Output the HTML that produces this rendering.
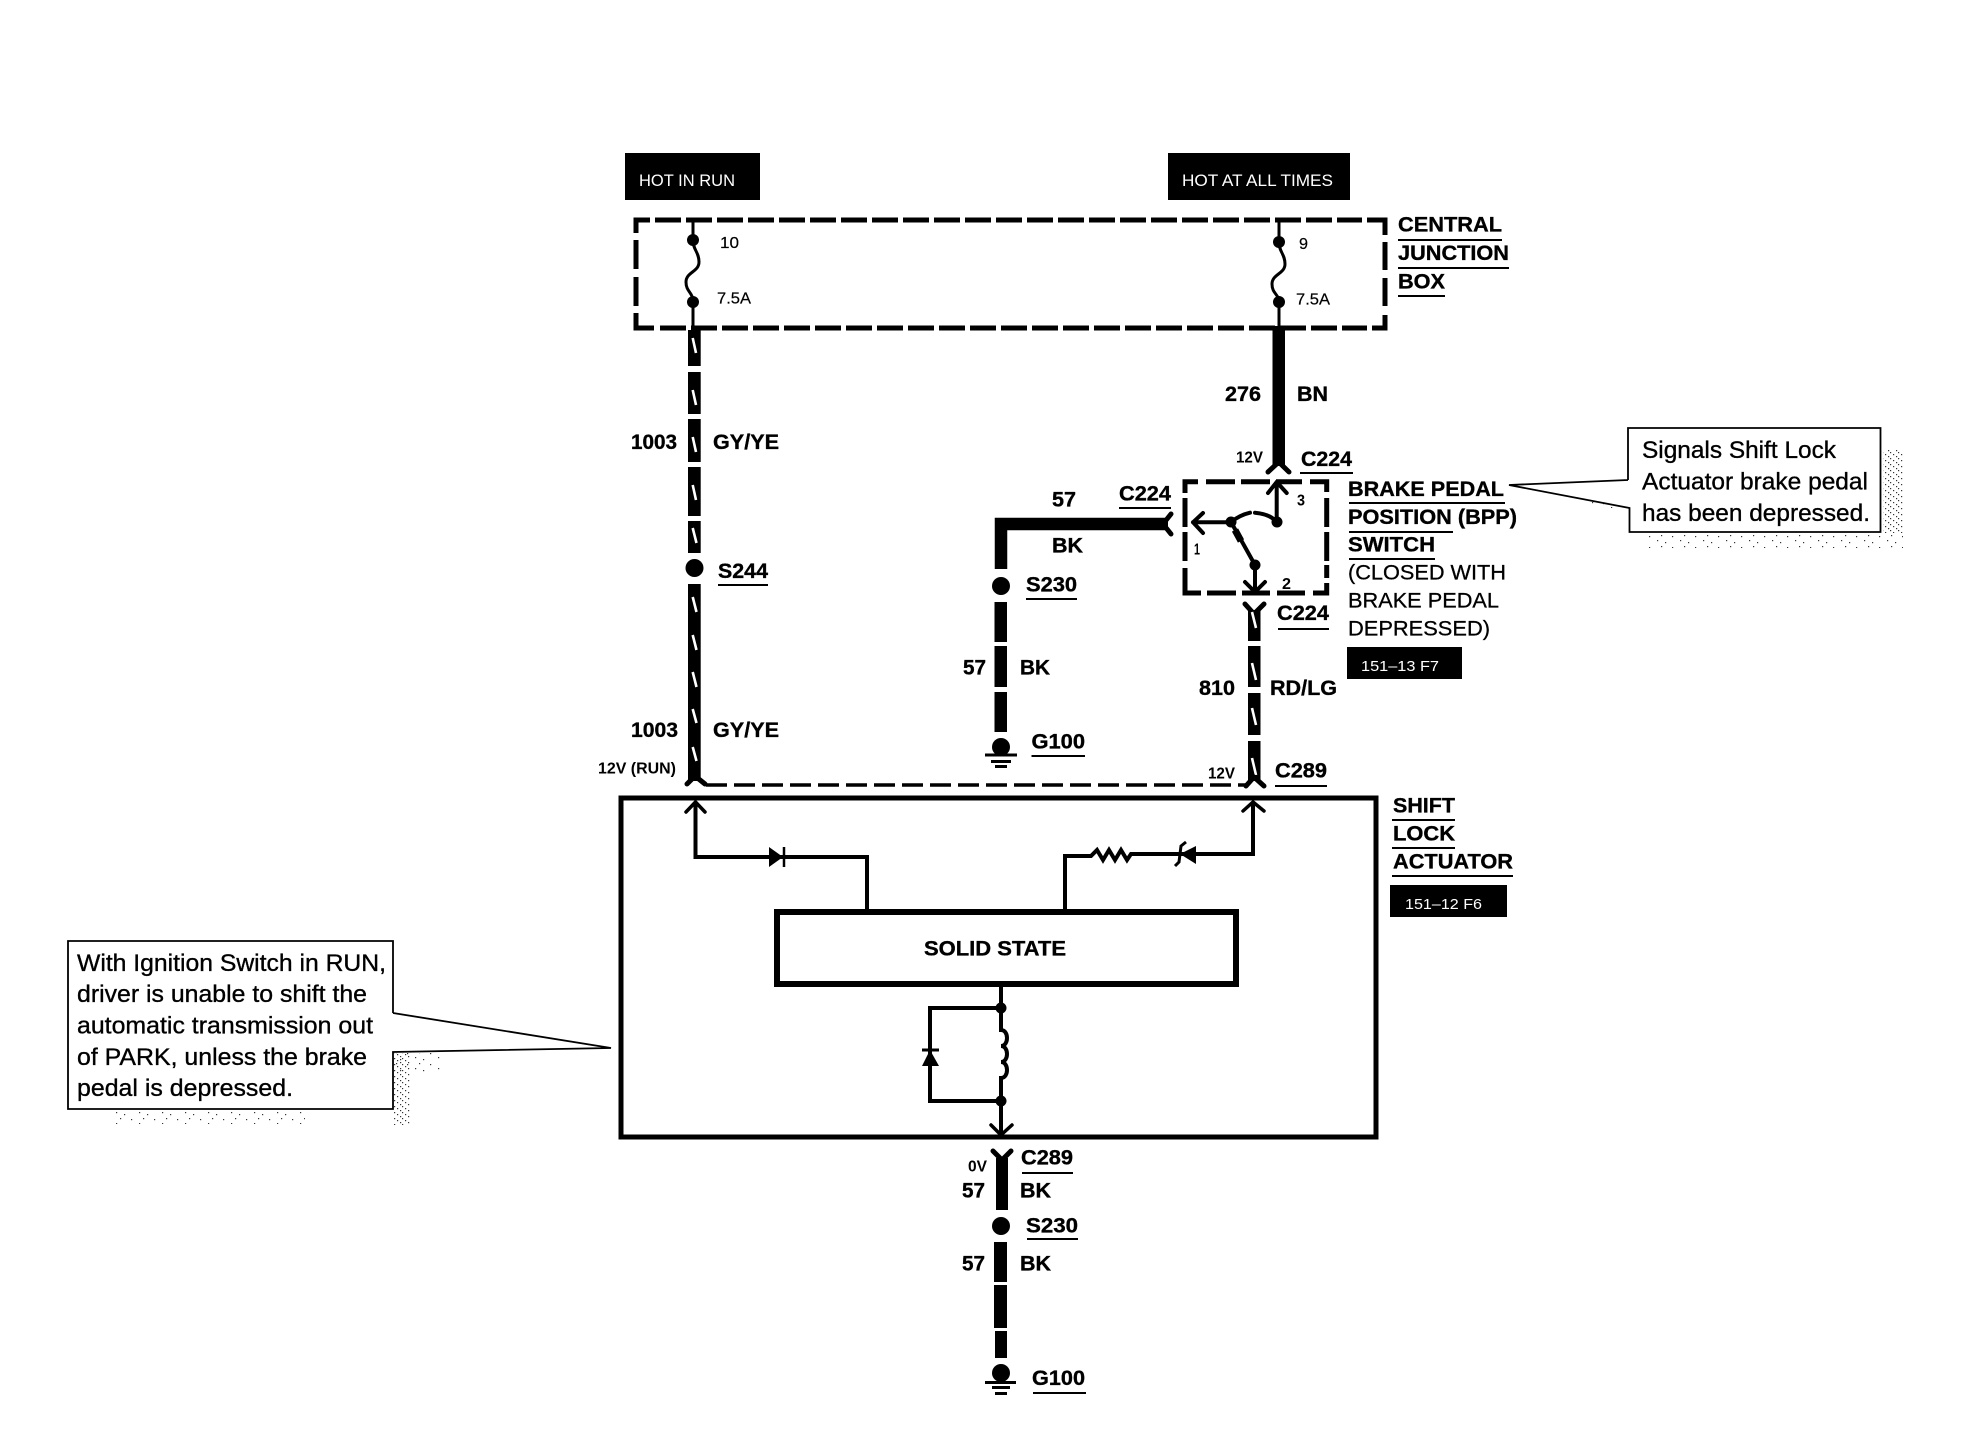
<!DOCTYPE html>
<html>
<head>
<meta charset="utf-8">
<title>Shift Lock Actuator Wiring Diagram</title>
<style>
html,body{margin:0;padding:0;background:#fff;}
svg{display:block;}
text{font-family:"Liberation Sans",sans-serif;fill:#000;}
.b{font-weight:bold;font-size:21px;stroke:#000;stroke-width:.35;}
.s{font-weight:bold;font-size:15.5px;}
.r{font-size:21.5px;stroke:#000;stroke-width:.3;}
.n{font-size:24.5px;stroke:#000;stroke-width:.35;}
.w{fill:#fff;font-size:16.5px;}
.t{fill:#fff;font-size:15px;}
.f{font-size:15.5px;stroke:#000;stroke-width:.2;}
.u{stroke:#000;stroke-width:2;}
.thin{fill:none;stroke:#000;stroke-width:3;}
.med{fill:none;stroke:#000;stroke-width:4;}
.d{fill:none;stroke:#000;stroke-width:5;}
.k{fill:#000;}
.sl{stroke:#fff;stroke-width:2.6;}
.fl{fill:none;stroke:#000;stroke-width:5;stroke-linecap:round;stroke-linejoin:round;}
.ar{fill:none;stroke:#000;stroke-width:3.5;stroke-linecap:round;stroke-linejoin:round;}
</style>
</head>
<body>
<svg xmlns="http://www.w3.org/2000/svg" width="1964" height="1456" viewBox="0 0 1964 1456">
<defs>
<pattern id="st" width="4" height="4" patternUnits="userSpaceOnUse">
<rect x="0" y="0" width="1.2" height="1.2" fill="#333"/>
<rect x="2" y="2" width="1.2" height="1.2" fill="#333"/>
</pattern>
<pattern id="st2" width="23" height="11" patternUnits="userSpaceOnUse">
<rect x="1" y="1" width="1.2" height="1.2" fill="#333"/>
<rect x="9" y="3" width="1.2" height="1.2" fill="#333"/>
<rect x="16" y="8" width="1.2" height="1.2" fill="#333"/>
<rect x="5" y="7" width="1.2" height="1.2" fill="#333"/>
</pattern>
<pattern id="st3" width="8" height="6" patternUnits="userSpaceOnUse">
<rect x="0" y="0" width="1.2" height="1.2" fill="#333"/>
<rect x="2" y="2" width="1.2" height="1.2" fill="#333"/>
<rect x="5" y="4" width="1.2" height="1.2" fill="#333"/>
</pattern>
</defs>
<rect width="1964" height="1456" fill="#fff"/>

<!-- header tags -->
<rect class="k" x="625" y="153" width="135" height="47"/>
<text class="w" x="639" y="186" textLength="96" lengthAdjust="spacingAndGlyphs">HOT IN RUN</text>
<rect class="k" x="1168" y="153" width="182" height="47"/>
<text class="w" x="1182" y="186" textLength="151" lengthAdjust="spacingAndGlyphs">HOT AT ALL TIMES</text>

<!-- central junction box dashed -->
<path class="d" d="M636 233V220H650"/>
<line class="d" x1="655" y1="220" x2="1362" y2="220" stroke-dasharray="26 5"/>
<path class="d" d="M1367 220H1385V235"/>
<line class="d" x1="636" y1="240" x2="636" y2="269"/>
<line class="d" x1="636" y1="277" x2="636" y2="306"/>
<path class="d" d="M636 313V328H654"/>
<line class="d" x1="660" y1="328" x2="1367" y2="328" stroke-dasharray="26 5"/>
<path class="d" d="M1372 328H1385V315"/>
<line class="d" x1="1385" y1="242" x2="1385" y2="270"/>
<line class="d" x1="1385" y1="278" x2="1385" y2="306"/>

<!-- fuses -->
<path class="thin" d="M693 220V240C693 250 699 252 699 262C699 272 686 272 686 282C686 292 693 292 693 302V330"/>
<circle class="k" cx="693" cy="240" r="6"/><circle class="k" cx="693" cy="302" r="6"/>
<path class="thin" d="M1279 220V242C1279 252 1285 254 1285 264C1285 274 1272 274 1272 284C1272 294 1279 294 1279 302V330"/>
<circle class="k" cx="1279" cy="242" r="6"/><circle class="k" cx="1279" cy="302" r="6"/>
<text class="f" x="720" y="248" textLength="19" lengthAdjust="spacingAndGlyphs">10</text>
<text class="f" x="717" y="303.5" textLength="34" lengthAdjust="spacingAndGlyphs">7.5A</text>
<text class="f" x="1299" y="249" textLength="9" lengthAdjust="spacingAndGlyphs">9</text>
<text class="f" x="1296" y="304.5" textLength="34" lengthAdjust="spacingAndGlyphs">7.5A</text>

<!-- junction labels -->
<text class="b" x="1398" y="231.5" textLength="104" lengthAdjust="spacingAndGlyphs">CENTRAL</text>
<line class="u" x1="1398" y1="240" x2="1502" y2="240"/>
<text class="b" x="1398" y="260" textLength="111" lengthAdjust="spacingAndGlyphs">JUNCTION</text>
<line class="u" x1="1398" y1="268" x2="1509" y2="268"/>
<text class="b" x="1398" y="288.5" textLength="47" lengthAdjust="spacingAndGlyphs">BOX</text>
<line class="u" x1="1398" y1="296" x2="1445" y2="296"/>

<!-- left wire 1003 -->
<g class="k">
<rect x="688" y="330" width="12.7" height="36"/>
<rect x="688" y="372" width="12.7" height="42"/>
<rect x="688" y="419" width="12.7" height="43"/>
<rect x="688" y="467" width="12.7" height="49"/>
<rect x="688" y="521" width="12.7" height="32"/>
<circle cx="694.5" cy="568" r="9"/>
<rect x="688" y="584" width="12.7" height="197"/>
</g>
<g class="sl">
<line x1="692.7" y1="338" x2="696" y2="353"/>
<line x1="692.7" y1="390" x2="696" y2="405"/>
<line x1="692.7" y1="437" x2="696" y2="452"/>
<line x1="692.7" y1="485" x2="696" y2="500"/>
<line x1="692.7" y1="528" x2="696.5" y2="543"/>
<line x1="692.7" y1="597" x2="696.5" y2="612"/>
<line x1="692.7" y1="635" x2="696.5" y2="650"/>
<line x1="692.7" y1="672" x2="696.5" y2="687"/>
<line x1="692.7" y1="709" x2="696.5" y2="723"/>
<line x1="692.7" y1="747" x2="696.5" y2="761"/>
</g>
<path class="fl" d="M687 784L695 776L705 784"/>
<text class="b" x="631" y="449" textLength="46" lengthAdjust="spacingAndGlyphs">1003</text>
<text class="b" x="713" y="449" textLength="66" lengthAdjust="spacingAndGlyphs">GY/YE</text>
<text class="b" x="718" y="578" textLength="50" lengthAdjust="spacingAndGlyphs">S244</text>
<line class="u" x1="718" y1="585" x2="768" y2="585"/>
<text class="b" x="631" y="737" textLength="47" lengthAdjust="spacingAndGlyphs">1003</text>
<text class="b" x="713" y="737" textLength="66" lengthAdjust="spacingAndGlyphs">GY/YE</text>
<text class="s" x="598" y="773.5" textLength="78" lengthAdjust="spacingAndGlyphs">12V (RUN)</text>

<!-- dashed link -->
<line x1="706" y1="785" x2="1247" y2="785" stroke="#000" stroke-width="3.5" stroke-dasharray="21 7"/>

<!-- wire 276 -->
<rect class="k" x="1272.5" y="326" width="12.5" height="140"/>
<path class="fl" d="M1268 472L1278.7 462L1289 472"/>
<text class="b" x="1225" y="401" textLength="36" lengthAdjust="spacingAndGlyphs">276</text>
<text class="b" x="1297" y="401" textLength="31" lengthAdjust="spacingAndGlyphs">BN</text>
<text class="s" x="1236" y="462.5" textLength="27" lengthAdjust="spacingAndGlyphs">12V</text>
<text class="b" x="1301" y="466" textLength="51" lengthAdjust="spacingAndGlyphs">C224</text>
<line class="u" x1="1300" y1="473" x2="1353" y2="473"/>

<!-- BPP switch dashed -->
<g class="d">
<path d="M1185 493V481.7H1198"/>
<line x1="1206" y1="481.7" x2="1235" y2="481.7"/>
<line x1="1241" y1="481.7" x2="1270" y2="481.7"/>
<line x1="1276" y1="481.7" x2="1302" y2="481.7"/>
<path d="M1310 481.7H1326.7V492"/>
<line x1="1185" y1="498" x2="1185" y2="527"/>
<line x1="1185" y1="532" x2="1185" y2="561"/>
<path d="M1185 568V593H1201"/>
<line x1="1207" y1="593" x2="1236" y2="593"/>
<line x1="1242" y1="593" x2="1270" y2="593"/>
<line x1="1277" y1="593" x2="1305" y2="593"/>
<path d="M1313 593H1326.7V583"/>
<line x1="1326.7" y1="498" x2="1326.7" y2="527"/>
<line x1="1326.7" y1="532" x2="1326.7" y2="561"/>
<line x1="1326.7" y1="565" x2="1326.7" y2="578"/>
</g>

<!-- switch internals -->
<g class="ar" style="stroke-width:4">
<path d="M1230 522.3H1193M1203 513L1193 522.3L1203 533"/>
<path d="M1231 522Q1240 515 1250 512.7"/>
<path d="M1255 512.7Q1270 514 1276.7 522V482M1268 493L1276.7 482L1286.7 493"/>
<path d="M1231 522L1255 565V592M1245 582L1255 592L1265 582"/>
</g>
<circle class="k" cx="1231" cy="522" r="5.5"/>
<circle class="k" cx="1277" cy="522" r="5.5"/>
<circle class="k" cx="1255" cy="565" r="5.5"/>
<line x1="1235" y1="530" x2="1241" y2="541" stroke="#000" stroke-width="7"/>
<text class="s" x="1297" y="505.5" textLength="8" lengthAdjust="spacingAndGlyphs">3</text>
<text class="s" x="1194" y="554.5" textLength="6" lengthAdjust="spacingAndGlyphs">1</text>
<text class="s" x="1282" y="589" textLength="9" lengthAdjust="spacingAndGlyphs">2</text>

<!-- wire 57 upper -->
<path d="M1168 524H1001V569" fill="none" stroke="#000" stroke-width="12.5"/>
<path class="fl" d="M1171 514L1163 524L1171 534"/>
<text class="b" x="1052" y="506.5" textLength="24" lengthAdjust="spacingAndGlyphs">57</text>
<text class="b" x="1119" y="500.5" textLength="52" lengthAdjust="spacingAndGlyphs">C224</text>
<line class="u" x1="1119" y1="508" x2="1171" y2="508"/>
<text class="b" x="1052" y="552.5" textLength="31" lengthAdjust="spacingAndGlyphs">BK</text>
<circle class="k" cx="1001" cy="586" r="9"/>
<text class="b" x="1026" y="591.5" textLength="51" lengthAdjust="spacingAndGlyphs">S230</text>
<line class="u" x1="1026" y1="599" x2="1077" y2="599"/>
<g class="k">
<rect x="994.5" y="602" width="12.5" height="40"/>
<rect x="994.5" y="646" width="12.5" height="41"/>
<rect x="994.5" y="692" width="12.5" height="40"/>
<circle cx="1001" cy="747" r="9"/>
<rect x="985" y="753.5" width="32" height="3"/>
<rect x="991" y="760" width="20" height="3"/>
<rect x="995" y="765" width="12" height="3"/>
</g>
<text class="b" x="963" y="674.5" textLength="23" lengthAdjust="spacingAndGlyphs">57</text>
<text class="b" x="1020" y="674.5" textLength="30" lengthAdjust="spacingAndGlyphs">BK</text>
<text class="b" x="1031.5" y="748.5" textLength="53.5" lengthAdjust="spacingAndGlyphs">G100</text>
<line class="u" x1="1031.5" y1="756" x2="1085" y2="756"/>

<!-- wire 810 -->
<g class="k">
<rect x="1248" y="610" width="12.5" height="31"/>
<rect x="1248" y="646" width="12.5" height="41"/>
<rect x="1248" y="693" width="12.5" height="42"/>
<rect x="1248" y="741" width="12.5" height="40"/>
</g>
<path class="fl" d="M1245 604L1254 614L1264 604"/>
<g class="sl">
<line x1="1252" y1="612" x2="1256" y2="628"/>
<line x1="1252" y1="663" x2="1256" y2="680"/>
<line x1="1252" y1="708" x2="1256" y2="725"/>
<line x1="1252" y1="758" x2="1256" y2="775"/>
</g>
<path class="fl" d="M1246 786L1254 777L1264 786"/>
<text class="b" x="1277" y="620" textLength="52" lengthAdjust="spacingAndGlyphs">C224</text>
<line class="u" x1="1278" y1="629" x2="1329" y2="629"/>
<text class="b" x="1199" y="695" textLength="36" lengthAdjust="spacingAndGlyphs">810</text>
<text class="b" x="1270" y="695" textLength="67" lengthAdjust="spacingAndGlyphs">RD/LG</text>
<text class="s" x="1208" y="778.5" textLength="27" lengthAdjust="spacingAndGlyphs">12V</text>
<text class="b" x="1275" y="777.5" textLength="52" lengthAdjust="spacingAndGlyphs">C289</text>
<line class="u" x1="1275" y1="786" x2="1327" y2="786"/>

<!-- BPP labels -->
<text class="b" x="1348" y="496" textLength="156" lengthAdjust="spacingAndGlyphs">BRAKE PEDAL</text>
<line class="u" x1="1349" y1="503" x2="1505" y2="503"/>
<text class="b" x="1348" y="524" textLength="169" lengthAdjust="spacingAndGlyphs">POSITION (BPP)</text>
<line class="u" x1="1349" y1="532" x2="1453" y2="532"/>
<text class="b" x="1348" y="551.5" textLength="87" lengthAdjust="spacingAndGlyphs">SWITCH</text>
<line class="u" x1="1349" y1="559" x2="1435" y2="559"/>
<text class="r" x="1348" y="579.5" textLength="158" lengthAdjust="spacingAndGlyphs">(CLOSED WITH</text>
<text class="r" x="1348" y="607.5" textLength="151" lengthAdjust="spacingAndGlyphs">BRAKE PEDAL</text>
<text class="r" x="1348" y="635.5" textLength="142" lengthAdjust="spacingAndGlyphs">DEPRESSED)</text>
<rect class="k" x="1347" y="647" width="115" height="32"/>
<text class="t" x="1361" y="671" textLength="78" lengthAdjust="spacingAndGlyphs">151–13 F7</text>

<!-- big actuator box -->
<rect x="621" y="798" width="755" height="339" fill="none" stroke="#000" stroke-width="5"/>
<text class="b" x="1393" y="812.5" textLength="62" lengthAdjust="spacingAndGlyphs">SHIFT</text>
<line class="u" x1="1392" y1="820" x2="1455" y2="820"/>
<text class="b" x="1393" y="840.5" textLength="62" lengthAdjust="spacingAndGlyphs">LOCK</text>
<line class="u" x1="1392" y1="848" x2="1455" y2="848"/>
<text class="b" x="1393" y="868.5" textLength="120" lengthAdjust="spacingAndGlyphs">ACTUATOR</text>
<line class="u" x1="1392" y1="876" x2="1513" y2="876"/>
<rect class="k" x="1390" y="885" width="117" height="32"/>
<text class="t" x="1405" y="909" textLength="77" lengthAdjust="spacingAndGlyphs">151–12 F6</text>

<!-- inside left branch -->
<path class="med" d="M695.5 802V857H867V909"/>
<path class="ar" d="M686 812L695.5 802L705 812"/>
<polygon class="k" points="769,847 783,857 769,867"/>
<line x1="784" y1="847" x2="784" y2="867" stroke="#000" stroke-width="2.5"/>

<!-- inside right branch -->
<path class="med" d="M1253 802V854H1131L1127 860L1121 850L1115 860L1109 850L1103 860L1097 850L1091 856H1065V909"/>
<path class="ar" d="M1243 811L1253 802L1264 811"/>
<polygon class="k" points="1196,846 1196,864 1180,854"/>
<path d="M1175 866L1179 862L1181 846L1186 842" fill="none" stroke="#000" stroke-width="3"/>

<!-- solid state -->
<rect x="777" y="912" width="459" height="72" fill="none" stroke="#000" stroke-width="6"/>
<text class="b" x="924" y="955.5" textLength="142" lengthAdjust="spacingAndGlyphs">SOLID STATE</text>

<!-- coil & diode -->
<path class="med" d="M1001 987V1030C1009 1030 1009 1046 1001 1046C1009 1046 1009 1062 1001 1062C1009 1062 1009 1078 1001 1078V1135"/>
<path class="med" d="M1001 1008H930V1101H1001"/>
<circle class="k" cx="1001" cy="1008" r="5.5"/>
<circle class="k" cx="1001" cy="1101" r="5.5"/>
<polygon class="k" points="930,1050 922,1066 939,1066"/>
<line x1="922" y1="1050" x2="939" y2="1050" stroke="#000" stroke-width="3"/>
<path class="ar" d="M991 1125L1001 1135L1012 1125"/>

<!-- lower wire -->
<path class="fl" d="M993 1151L1002 1160L1011 1151"/>
<rect class="k" x="996" y="1158" width="12" height="52"/>
<circle class="k" cx="1001" cy="1226" r="9"/>
<g class="k">
<rect x="994" y="1242" width="13" height="40"/>
<rect x="994" y="1285" width="13" height="43"/>
<rect x="995" y="1331" width="12" height="27"/>
<circle cx="1001" cy="1373" r="9"/>
<rect x="985" y="1381" width="31" height="3"/>
<rect x="992" y="1386" width="18" height="3"/>
<rect x="995" y="1392" width="12" height="3"/>
</g>
<text class="b" x="1021" y="1164.5" textLength="52" lengthAdjust="spacingAndGlyphs">C289</text>
<line class="u" x1="1022" y1="1173" x2="1073" y2="1173"/>
<text class="s" x="968" y="1171.5" textLength="19" lengthAdjust="spacingAndGlyphs">0V</text>
<text class="b" x="962" y="1197.5" textLength="23" lengthAdjust="spacingAndGlyphs">57</text>
<text class="b" x="1020" y="1197.5" textLength="31" lengthAdjust="spacingAndGlyphs">BK</text>
<text class="b" x="1026" y="1232.5" textLength="52" lengthAdjust="spacingAndGlyphs">S230</text>
<line class="u" x1="1027" y1="1239" x2="1078" y2="1239"/>
<text class="b" x="962" y="1270.5" textLength="23" lengthAdjust="spacingAndGlyphs">57</text>
<text class="b" x="1020" y="1270.5" textLength="31" lengthAdjust="spacingAndGlyphs">BK</text>
<text class="b" x="1032" y="1385" textLength="53" lengthAdjust="spacingAndGlyphs">G100</text>
<line class="u" x1="1033" y1="1393" x2="1086" y2="1393"/>

<!-- right note -->
<rect x="1883" y="450" width="20" height="83" fill="url(#st3)"/>
<rect x="1647" y="534" width="256" height="14" fill="url(#st2)"/>
<rect x="1590" y="492" width="38" height="16" fill="url(#st2)"/>
<path d="M1628 480V428H1880.5V532H1629.5V508L1509 485L1628 480" fill="#fff" stroke="#000" stroke-width="1.8"/>
<text class="n" x="1642" y="458" textLength="194" lengthAdjust="spacingAndGlyphs">Signals Shift Lock</text>
<text class="n" x="1642" y="489.5" textLength="226" lengthAdjust="spacingAndGlyphs">Actuator brake pedal</text>
<text class="n" x="1642" y="521" textLength="228" lengthAdjust="spacingAndGlyphs">has been depressed.</text>

<!-- left note -->
<rect x="394" y="1053" width="46" height="20" fill="url(#st2)"/>
<rect x="394" y="1053" width="16" height="72" fill="url(#st3)"/>
<rect x="115" y="1112" width="190" height="12" fill="url(#st2)"/>
<path d="M393 1013V941H68V1109H393V1052L611 1048L393 1013" fill="#fff" stroke="#000" stroke-width="1.8"/>
<text class="n" x="77" y="971" textLength="309" lengthAdjust="spacingAndGlyphs">With Ignition Switch in RUN,</text>
<text class="n" x="77" y="1002" textLength="290" lengthAdjust="spacingAndGlyphs">driver is unable to shift the</text>
<text class="n" x="77" y="1033.5" textLength="296" lengthAdjust="spacingAndGlyphs">automatic transmission out</text>
<text class="n" x="77" y="1065" textLength="290" lengthAdjust="spacingAndGlyphs">of PARK, unless the brake</text>
<text class="n" x="77" y="1096" textLength="216" lengthAdjust="spacingAndGlyphs">pedal is depressed.</text>
</svg>
</body>
</html>
